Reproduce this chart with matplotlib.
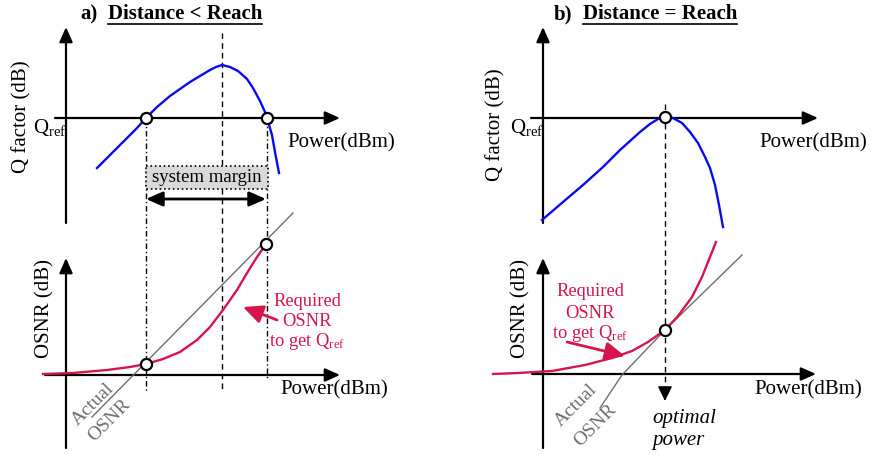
import matplotlib
matplotlib.use('Agg')
import matplotlib.pyplot as plt
from matplotlib.patches import Rectangle

plt.rcParams['font.family'] = ['Liberation Serif', 'DejaVu Serif']
plt.rcParams['mathtext.fontset'] = 'custom'
plt.rcParams['mathtext.rm'] = 'Liberation Serif'
plt.rcParams['mathtext.it'] = 'Liberation Serif:italic'

# curves, in pixel coordinates (y grows downwards)
# a) Distance < Reach
q_a_x = [97, 110, 123, 137, 146, 157, 170, 180, 190, 200, 210, 216, 222, 230, 238, 247, 253, 260, 265, 267, 272, 275, 279]
q_a_y = [168, 155, 142, 128, 118, 107, 96, 89, 82, 76, 70, 67, 65, 67, 71, 79, 88, 101, 112, 118, 135, 152, 173]
req_a_x = [43, 73, 107, 130, 146, 163, 180, 197, 210, 223, 237, 247, 257, 266]
req_a_y = [374, 373, 370, 367, 364, 359, 352, 340, 327, 310, 290, 273, 257, 244]
act_a_x = [293, 92]
act_a_y = [213, 417]
pts_a_x = [146, 267, 146, 266]
pts_a_y = [118, 118, 364, 244]

# b) Distance = Reach
q_b_x = [542, 563, 583, 603, 620, 630, 640, 650, 658, 665, 673, 682, 690, 698, 705, 710, 715, 719, 723]
q_b_y = [220, 202, 185, 167, 150, 141, 132, 124, 119, 117, 118, 123, 132, 143, 157, 168, 185, 205, 227]
req_b_x = [493, 518, 552, 585, 612, 632, 648, 665, 678, 692, 702, 710, 716]
req_b_y = [374, 373, 371, 365, 358, 351, 342, 330, 316, 297, 277, 257, 242]
act_b_x = [742, 665, 622, 600]
act_b_y = [255, 330, 375, 408]
pts_b_x = [665, 665]
pts_b_y = [117, 330]

blue = '#0a0af5'
red = '#d6154a'
grey = '#6e6e6e'

fig = plt.figure(figsize=(8.72, 4.55), dpi=100)
ax = fig.add_axes([0, 0, 1, 1])
ax.set_xlim(0, 872)
ax.set_ylim(455, 0)
ax.axis('off')


def arrow(x0, y0, x1, y1, style='-|>,head_length=0.45,head_width=0.2', lw=1.6, color='k'):
    ax.annotate('', xy=(x1, y1), xytext=(x0, y0),
                arrowprops=dict(arrowstyle=style, lw=lw, color=color,
                                shrinkA=0, shrinkB=0, mutation_scale=20))


# axes of the four sketches
arrow(66, 223, 66, 27)
arrow(55, 118, 340, 118)
arrow(66, 448, 66, 258)
arrow(45, 375, 340, 375)
arrow(543, 223, 543, 27)
arrow(531, 118, 818, 118)
arrow(543, 448, 543, 258)
arrow(532, 374, 816, 374)

# guide lines
ax.plot([222, 222], [33, 390], color='k', lw=1.0, dashes=(4, 3))
ax.plot([146, 146], [118, 392], color='k', lw=1.0, dashes=(4, 2, 1, 2))
ax.plot([267, 267], [118, 378], color='k', lw=1.0, dashes=(4, 2, 1, 2))
ax.plot([665, 665], [104, 390], color='k', lw=1.0, dashes=(4, 3))
arrow(665, 388, 665, 401, style='-|>,head_length=0.45,head_width=0.22', lw=1.0)

# system margin
ax.add_patch(Rectangle((146, 166), 122, 23, fc='#d9d9d9', ec='k', ls=':', lw=1.2, zorder=3))
ax.text(207, 177.5, 'system margin', fontsize=13.5, ha='center', va='center', zorder=4)
arrow(146, 199, 266, 199, style='<|-|>,head_length=0.5,head_width=0.22', lw=2.0)

# curves
ax.plot(q_a_x, q_a_y, color=blue, lw=1.7, solid_joinstyle='round', zorder=5)
ax.plot(q_b_x, q_b_y, color=blue, lw=1.7, solid_joinstyle='round', zorder=5)
ax.plot(act_a_x, act_a_y, color=grey, lw=1.0, zorder=5)
ax.plot(act_b_x, act_b_y, color=grey, lw=1.0, zorder=5)
ax.plot(req_a_x, req_a_y, color=red, lw=1.7, solid_joinstyle='round', zorder=6)
ax.plot(req_b_x, req_b_y, color=red, lw=1.7, solid_joinstyle='round', zorder=6)
ax.plot(pts_a_x + pts_b_x, pts_a_y + pts_b_y, 'o', ms=8, mfc='white', mec='k', mew=1.6, zorder=7)

# red notes
for x0, lines, ys in [(307, ['Required', 'OSNR', r'to get Q$_{\mathrm{ref}}$'], [302, 322, 342]),
                      (590, ['Required', 'OSNR', r'to get Q$_{\mathrm{ref}}$'], [292, 313, 334])]:
    for s, y in zip(lines, ys):
        ax.text(x0, y, s, color=red, fontsize=13.3, ha='center', va='center')
arrow(277, 320, 243, 307, style='-|>,head_length=0.6,head_width=0.28', lw=2.0, color=red)
arrow(567, 342, 625, 356, style='-|>,head_length=0.6,head_width=0.28', lw=2.0, color=red)

# "Actual / OSNR" along the grey line
for (x1, y1), (x2, y2) in [((93, 404), (109, 420)), ((576, 405), (595, 425))]:
    ax.text(x1, y1, 'Actual', color=grey, fontsize=14, rotation=45, ha='center', va='center',
            rotation_mode='anchor')
    ax.text(x2, y2, 'OSNR', color=grey, fontsize=14, rotation=45, ha='center', va='center',
            rotation_mode='anchor')

# axis labels
ax.text(22, 117, 'Q factor (dB)', fontsize=15, rotation=90, ha='center', va='center')
ax.text(496, 125, 'Q factor (dB)', fontsize=15, rotation=90, ha='center', va='center')
ax.text(45, 309, 'OSNR (dB)', fontsize=15, rotation=90, ha='center', va='center')
ax.text(521, 308, 'OSNR (dB)', fontsize=15, rotation=90, ha='center', va='center')
ax.text(66, 128, r'Q$_{\mathrm{ref}}$', fontsize=15, ha='right', va='center')
ax.text(543, 128, r'Q$_{\mathrm{ref}}$', fontsize=15, ha='right', va='center')
ax.text(287, 143, 'Power(dBm)', fontsize=15, ha='left', va='center')
ax.text(280, 390, 'Power(dBm)', fontsize=15, ha='left', va='center')
ax.text(759, 143, 'Power(dBm)', fontsize=15, ha='left', va='center')
ax.text(754, 390, 'Power(dBm)', fontsize=15, ha='left', va='center')
ax.text(652, 419, 'optimal', fontsize=15, style='italic', ha='left', va='center')
ax.text(652, 440, 'power', fontsize=15, style='italic', ha='left', va='center')

# titles, with the underlined part
ax.text(80, 14, 'a)', fontsize=15, weight='bold', ha='left', va='center')
ax.text(554, 14, 'b)', fontsize=15, weight='bold', ha='left', va='center')
heads = [ax.text(108, 14, 'Distance < Reach', fontsize=15, weight='bold', ha='left', va='center'),
         ax.text(583, 14, 'Distance = Reach', fontsize=15, weight='bold', ha='left', va='center')]
fig.canvas.draw()
inv = ax.transData.inverted()
for t in heads:
    bb = t.get_window_extent(fig.canvas.get_renderer())
    (xa, _), (xb, _) = inv.transform([(bb.x0, bb.y0), (bb.x1, bb.y0)])
    ax.plot([xa, xb], [23.5, 23.5], color='k', lw=1.2)

fig.savefig('out.png', dpi=100)
